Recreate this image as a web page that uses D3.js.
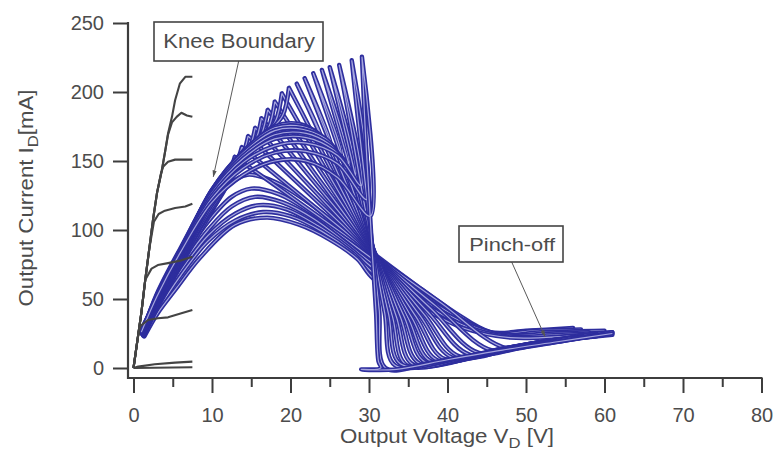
<!DOCTYPE html>
<html>
<head>
<meta charset="utf-8">
<script src="https://cdnjs.cloudflare.com/ajax/libs/d3/7.8.5/d3.min.js"></script>
<style>
  html, body { margin: 0; padding: 0; background: #ffffff; }
  svg text { font-family: "Liberation Sans", Arial, Helvetica, sans-serif; fill: #4c4c4c; }
</style>
</head>
<body>
<svg id="chart" width="775" height="450"></svg>
<script>
// Axis ticks
const xTicks = [0, 10, 20, 30, 40, 50, 60, 70, 80];
const xMinorTicks = [5, 15, 25, 35, 45, 55, 65, 75];
const yTicks = [0, 50, 100, 150, 200, 250];

// DC output characteristics [V_D (V), I_D (mA)], one curve per gate step
const dcCurves = [
  [[0,0],[0.5,20],[1,40],[1.5,64],[2,86],[2.5,108],[3,127],[3.6,143],[4,156],[4.4,170],[4.9,182],[5.3,194],[5.9,206],[6.6,211],[7.5,211]],
  [[0,0],[0.5,20],[1,40],[1.5,64],[2,86],[2.5,108],[3,127],[3.6,143],[4,156],[4.4,169],[4.9,178],[5.5,182],[6.1,185],[6.8,183],[7.5,182]],
  [[0,0],[0.5,20],[1,40],[1.5,64],[2,86],[2.5,108],[3,127],[3.5,141],[3.8,146],[4.4,149.5],[5.3,151],[6.4,151],[7.5,151]],
  [[0,0],[0.5,20],[1,40],[1.5,64],[2,86],[2.6,106],[3.2,111.6],[4,114],[5.3,116],[6.6,117],[7.5,119]],
  [[0,0],[0.5,20],[1,40],[1.5,64],[2.3,72],[3.1,74.6],[4.4,76],[6.1,78],[7.5,80.7]],
  [[0,0],[0.5,20],[0.8,30],[1.85,34.8],[3.1,36],[4.4,36.7],[6.1,39.6],[7.5,42]],
  [[0,0],[0.6,1],[2.7,2.7],[5.3,3.9],[7.5,4.6]],
  [[0,0],[0.2,0],[7.5,0.5]]
];

// Dynamic load lines that reach the knee boundary: rising leg up to the tip,
// falling leg from the tip through the bias region into pinch-off
const tipLoops = [
  { rise: [[1.0,26],[3,52],[6,84],[10,120],[14,140],[18,150],[22,150],[26,138],[30.17,110],[29.1,225.6]],
    fall: [[29.1,225.6],[29.5,175],[30.0,125],[30.4,85],[30.9,40],[31.2,5],[31.5,0],[29.0,-1],[33.5,-1],[40,6],[47,13],[54,19],[61,25]] },
  { rise: [[1.0,25],[3,53],[6,85],[10,123],[14,145],[18,156],[22,157],[26,148],[29.76,122],[27.8,223]],
    fall: [[27.8,223],[28.6,180],[29.6,130],[30.5,84],[31.3,42],[32.1,0],[38,4],[45,11],[52,17],[58,23]] },
  { rise: [[1.1,25],[3,53],[6,86],[10,125],[14,149],[18,161],[22,163],[26,154],[29.03,132],[26.2,219.6]],
    fall: [[26.2,219.6],[27.5,180],[29.2,125],[30.6,83],[32,40],[33.3,2],[42,8],[50,16],[56,22]] },
  { rise: [[1.1,25],[3,54],[6,87],[10,127],[14,152],[18,166],[22,167],[25.5,158],[28.26,140],[25,218]],
    fall: [[25,218],[27,170],[29,122],[30.7,82],[32.5,39],[34,3],[43,9],[52,18],[60,24]] },
  { rise: [[1.2,24],[3,53],[6,86],[10,128],[14,154],[18,169],[22,170],[25,162],[27.42,148],[24,216]],
    fall: [[24,216],[26,176],[28.5,127],[30.8,81],[33,37],[34.8,2],[44,10],[52,18],[57,22]] },
  { rise: [[1.2,24],[3,52],[6,85],[10,129],[14,156],[18,172],[21.5,173],[24.5,166],[26.41,155],[22.9,213.6]],
    fall: [[22.9,213.6],[25,178],[28,128],[30.9,80],[33.5,37],[35.6,2.6],[45,11],[53,19],[61,24]] },
  { rise: [[1.2,25],[3,52],[6,84],[10,129],[14,157],[18,174],[21.5,175],[23.8,169],[25.27,160],[21.8,210]],
    fall: [[21.8,210],[24,178],[27.5,128],[31,80],[34,37],[36.4,3.4],[46,12],[54,20],[59,23]] },
  { rise: [[1.3,24],[3,51],[6,83],[10,129],[14,157],[18,175],[21,177],[23,172],[24.12,165],[20.8,206]],
    fall: [[20.8,206],[23,179],[27,129],[31,80],[34.5,37],[37.2,4.2],[46,13],[55,20],[61,26]] },
  { rise: [[1.3,24],[3,50],[6,82],[10,126],[14,153],[17,170],[19,183],[19.8,203]],
    fall: [[19.8,203],[22,179],[26.5,129],[31,80],[35,36],[37.9,4.9],[47,14],[55,21]] },
  { rise: [[1.0,27],[3,50],[6,81],[10,125],[13.5,150],[16.5,167],[18.1,179],[18.9,199]],
    fall: [[18.9,199],[21,178],[26,129],[31,80],[35.5,36],[38.7,5.7],[47,14],[53,20]] },
  { rise: [[1.0,26],[3,49],[6,80],[10,124],[13.5,149],[15.5,161],[17.2,174],[18,193]],
    fall: [[18,193],[20.5,171],[25.5,128],[31,80],[36,37],[39.6,6.6],[48,15],[56,22]] },
  { rise: [[1.1,26],[3,48],[6,79],[10,122],[13,144],[15,156],[16.3,169],[17.1,187]],
    fall: [[17.1,187],[20,165],[25,126],[31,80],[36.5,38],[40.6,7.6],[49,16],[60,24]] },
  { rise: [[1.1,25],[3,47],[6,78],[10,121],[13,142],[15.5,164],[16.3,181]],
    fall: [[16.3,181],[19,162.5],[24,128],[31,80],[37,39],[41.5,8.5],[50,17],[57,23]] },
  { rise: [[1.2,25],[3,46],[6,77],[9.5,114],[12.5,138],[14.7,158],[15.5,174]],
    fall: [[15.5,174],[18.5,155.8],[23.5,125.5],[31,80],[37.5,40.6],[42.8,9.8],[50,17],[58,24]] },
  { rise: [[1.2,24],[3,45],[6,76],[9.5,112],[12,133],[13.8,152],[14.6,168]],
    fall: [[14.6,168],[18,149.7],[23,122.9],[31,80],[38,42.4],[44,11],[51,18],[55,21]] },
  { rise: [[1.3,24],[3,44],[6,75],[9,106],[11.5,128],[13,146],[13.8,160]],
    fall: [[13.8,160],[17.5,142.8],[22.5,119.5],[31,80],[38.5,45],[45.7,12.7],[52,19],[61,25]] },
  { rise: [[1.3,23],[3,43],[6,74],[9,104],[11,124],[12.2,141],[12.9,153]],
    fall: [[12.9,153],[17,136.5],[22,116.3],[31,80],[39,47.8],[47.5,14.5],[53,20],[59,24]] }
];

// Lower-drive load lines that stay under the knee boundary
const arcLoops = [
  [[1.0,28],[3,50],[6,82],[9.5,114],[12,132],[14.5,140],[18,135],[22,121],[26.5,101],[30.8,82],[36,60],[41,40],[45.5,26],[50,27],[56,29]],
  [[1.1,26],[3,47],[6,77],[9.5,106],[12.5,124],[15,130],[18.5,126],[22.5,113],[26.5,96],[30.7,78],[36,57],[41,38],[46,25],[51,27],[57,28]],
  [[1.2,25],[3,45],[6,73],[9.5,100],[12.5,117],[15.5,124],[19,120],[23,108],[27,91],[30.6,75],[36,55],[41.5,36],[46.5,24],[52,26],[60,27]],
  [[1.3,25],[3,43],[6,70],[9.5,96],[13,112],[16,118],[19.5,115],[23.5,103],[27.5,87],[30.6,72],[36,52],[42,33],[47,24],[53,25],[58,26]],
  [[1.3,24],[3,41],[6,67],[9.5,92],[13,107],[16.5,113],[20,110],[24,99],[28,83],[30.5,69],[36,50],[42,31],[47.5,23],[54,24],[61,26]],
  [[1.4,23],[3,39],[5.5,58],[8.5,80],[12.9,103.6],[17,109],[21,104],[25,93],[28.5,79],[30.5,65],[36,46],[42,29],[48,22],[55,23],[59,25]]
];

const svg = d3.select('#chart');
const x = d3.scaleLinear().domain([0, 80]).range([133.5, 761.5]);
const y = d3.scaleLinear().domain([0, 250]).range([368, 23]);

const axisColor = '#3d3d3d';
const loopColor = '#2e2e9e';
const loopCore = '#a6a6de';

const smooth = d3.line().x(d => x(d[0])).y(d => y(d[1])).curve(d3.curveCatmullRom.alpha(0.5));
const straight = d3.line().x(d => x(d[0])).y(d => y(d[1]));

// Load-line loops: dark outline with a pale core (narrow closed loops)
const loopPaths = [
  ...arcLoops.map(a => smooth(a)),
  ...tipLoops.slice().reverse().map(l => smooth(l.rise) + smooth(l.fall))
];
const gLoops = svg.append('g');
loopPaths.forEach(d => {
  const g = gLoops.append('g');
  g.append('path').attr('d', d).attr('fill', 'none').attr('stroke', loopColor)
    .attr('stroke-width', 4.4).attr('stroke-linejoin', 'round').attr('stroke-linecap', 'round');
  g.append('path').attr('d', d).attr('fill', 'none').attr('stroke', loopCore)
    .attr('stroke-width', 1.2).attr('stroke-linejoin', 'round');
});

// DC curves
svg.append('g').selectAll('path').data(dcCurves).join('path')
  .attr('d', straight).attr('fill', 'none').attr('stroke', '#444')
  .attr('stroke-width', 2.1).attr('stroke-linejoin', 'round');

// Axes
const yAxis = d3.axisLeft(y).tickValues(yTicks).tickSize(15).tickPadding(9);
const gy = svg.append('g').attr('transform', 'translate(128,0)').call(yAxis);
gy.select('.domain').remove();

const xAxis = d3.axisBottom(x).tickValues(xTicks).tickSize(15).tickPadding(15);
const gx = svg.append('g').attr('transform', 'translate(0,378)').call(xAxis);
gx.select('.domain').remove();

const xMinor = d3.axisBottom(x).tickValues(xMinorTicks).tickSize(9).tickFormat('');
const gxm = svg.append('g').attr('transform', 'translate(0,378)').call(xMinor);
gxm.select('.domain').remove();

[gy, gx, gxm].forEach(g => {
  g.selectAll('.tick line').attr('stroke', axisColor).attr('stroke-width', 2);
  g.selectAll('.tick text').attr('font-size', 20).attr('fill', '#4c4c4c')
    .attr('font-family', '"Liberation Sans", Arial, sans-serif');
});

svg.append('line').attr('x1', 128).attr('x2', 128).attr('y1', y(250) - 1).attr('y2', 379)
  .attr('stroke', axisColor).attr('stroke-width', 2.2);
svg.append('line').attr('x1', 127).attr('x2', x(80) + 1).attr('y1', 378).attr('y2', 378)
  .attr('stroke', axisColor).attr('stroke-width', 2.2);

// Axis titles
const yTitle = svg.append('text')
  .attr('transform', 'translate(33,198) rotate(-90)')
  .attr('text-anchor', 'middle').attr('font-size', 20)
  .attr('textLength', 217).attr('lengthAdjust', 'spacingAndGlyphs');
yTitle.append('tspan').text('Output Current I');
yTitle.append('tspan').attr('font-size', 15).attr('dy', 5).text('D');
yTitle.append('tspan').attr('dy', -5).text('[mA]');

const xTitle = svg.append('text')
  .attr('x', 447).attr('y', 443)
  .attr('text-anchor', 'middle').attr('font-size', 20)
  .attr('textLength', 214).attr('lengthAdjust', 'spacingAndGlyphs');
xTitle.append('tspan').text('Output Voltage V');
xTitle.append('tspan').attr('font-size', 15).attr('dy', 5).text('D');
xTitle.append('tspan').attr('dy', -5).text(' [V]');

// Annotations
const defs = svg.append('defs');
defs.append('marker').attr('id', 'tip').attr('viewBox', '0 0 10 10')
  .attr('refX', 9).attr('refY', 5).attr('markerWidth', 7).attr('markerHeight', 7)
  .attr('orient', 'auto')
  .append('path').attr('d', 'M0,2 L10,5 L0,8 Z').attr('fill', '#555');

function callout(box, label, from, to, fontSize, textX, textY, textLen) {
  svg.append('line').attr('x1', from[0]).attr('y1', from[1]).attr('x2', to[0]).attr('y2', to[1])
    .attr('stroke', '#5a5a5a').attr('stroke-width', 1).attr('marker-end', 'url(#tip)');
  svg.append('rect').attr('x', box[0]).attr('y', box[1]).attr('width', box[2]).attr('height', box[3])
    .attr('fill', '#ffffff').attr('stroke', '#444').attr('stroke-width', 1.6);
  svg.append('text').attr('x', textX).attr('y', textY).attr('font-size', fontSize)
    .attr('textLength', textLen).attr('lengthAdjust', 'spacingAndGlyphs').text(label);
}
callout([154, 22, 169, 39], 'Knee Boundary', [238.7, 61], [213.3, 176.7], 19.5, 163.3, 48.3, 151.7);
callout([459, 226, 104, 36], 'Pinch-off', [511.7, 262], [545, 336.7], 18.5, 469.3, 251, 85.7);
</script>
</body>
</html>
